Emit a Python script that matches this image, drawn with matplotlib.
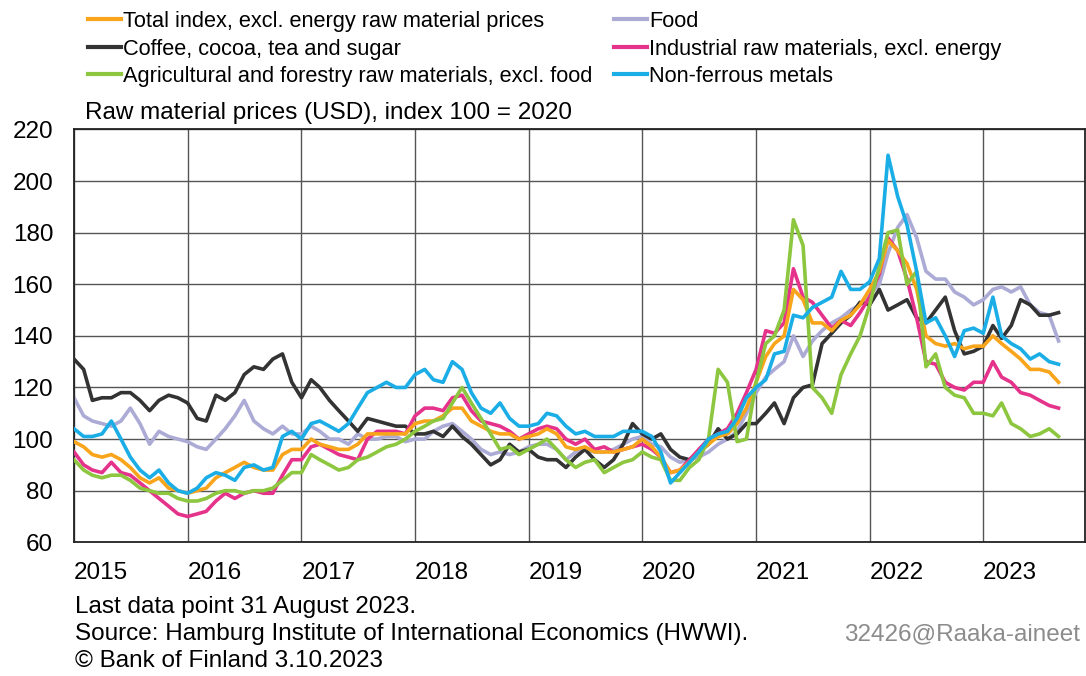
import pandas as pd
import matplotlib
matplotlib.use('Agg')
import matplotlib.pyplot as plt
import matplotlib.dates as mdates
from matplotlib.lines import Line2D

plt.rcParams['font.family'] = ['Liberation Sans', 'DejaVu Sans']

# Monthly readings (start of month), Jan 2015 - Aug 2023, last value = 31 Aug 2023
dates = list(pd.date_range('2015-01-01', '2023-08-01', freq='MS')) + [pd.Timestamp('2023-08-31')]

total = [99, 97, 94, 93, 94, 92, 89, 85, 83, 85, 81, 80,
         79, 80, 81, 85, 87, 89, 91, 89, 88, 88, 94, 96,
         96, 100, 98, 97, 96, 96, 98, 102, 102, 102, 102, 102,
         106, 107, 107, 109, 112, 112, 107, 105, 103, 102, 102, 100,
         101, 102, 104, 102, 97, 96, 97, 95, 95, 95, 96, 97,
         100, 97, 93, 87, 88, 91, 95, 98, 101, 102, 106, 112,
         122, 132, 137, 140, 158, 154, 145, 145, 142, 146, 148, 152,
         158, 165, 177, 173, 168, 158, 140, 137, 136, 137, 135, 136,
         136, 140, 137, 134, 131, 127, 127, 126, 122]

coffee = [131, 127, 115, 116, 116, 118, 118, 115, 111, 115, 117, 116,
          114, 108, 107, 117, 115, 118, 125, 128, 127, 131, 133, 122,
          116, 123, 120, 115, 111, 107, 103, 108, 107, 106, 105, 105,
          102, 102, 103, 101, 105, 101, 98, 94, 90, 92, 98, 95,
          96, 93, 92, 92, 89, 93, 96, 92, 89, 92, 98, 106,
          102, 100, 102, 96, 93, 92, 95, 98, 104, 100, 102, 106,
          106, 110, 114, 106, 116, 120, 121, 137, 141, 145, 148, 153,
          152, 158, 150, 152, 154, 147, 145, 150, 155, 142, 133, 134,
          136, 144, 139, 144, 154, 152, 148, 148, 149]

agri = [92, 88, 86, 85, 86, 86, 84, 81, 80, 79, 79, 77,
        76, 76, 77, 79, 80, 80, 79, 80, 80, 81, 84, 87,
        87, 94, 92, 90, 88, 89, 92, 93, 95, 97, 98, 100,
        103, 105, 107, 108, 114, 120, 114, 108, 102, 96, 97, 94,
        96, 98, 100, 96, 92, 89, 91, 92, 87, 89, 91, 92,
        95, 93, 92, 84, 84, 89, 92, 100, 127, 122, 99, 100,
        122, 137, 140, 150, 185, 175, 120, 116, 110, 125, 133, 140,
        152, 167, 180, 181, 160, 165, 128, 133, 120, 117, 116, 110,
        110, 109, 114, 106, 104, 101, 102, 104, 101]

food = [116, 109, 107, 106, 105, 107, 112, 106, 98, 103, 101, 100,
        99, 97, 96, 100, 104, 109, 115, 107, 104, 102, 105, 102,
        102, 105, 103, 100, 100, 98, 102, 100, 100, 101, 101, 99,
        100, 100, 103, 105, 106, 103, 100, 96, 94, 95, 94, 95,
        97, 98, 98, 96, 92, 95, 96, 95, 95, 96, 98, 100,
        101, 98, 97, 93, 91, 92, 93, 95, 98, 100, 103, 110,
        118, 124, 127, 130, 140, 132, 138, 142, 145, 147, 150, 152,
        156, 160, 172, 182, 187, 178, 165, 162, 162, 157, 155, 152,
        154, 158, 159, 157, 159, 152, 149, 148, 138]

industrial = [95, 90, 88, 87, 91, 87, 86, 83, 80, 77, 74, 71,
              70, 71, 72, 76, 79, 77, 79, 80, 79, 79, 86, 92,
              92, 97, 98, 96, 94, 93, 92, 100, 103, 103, 103, 102,
              109, 112, 112, 111, 116, 117, 111, 107, 106, 105, 103, 100,
              102, 104, 105, 104, 100, 98, 100, 96, 97, 95, 96, 97,
              98, 96, 93, 87, 88, 92, 96, 100, 102, 104, 110, 118,
              127, 142, 141, 145, 166, 155, 153, 148, 143, 146, 144, 149,
              155, 164, 178, 173, 162, 147, 130, 129, 122, 120, 119, 122,
              122, 130, 124, 122, 118, 117, 115, 113, 112]

metals = [104, 101, 101, 102, 107, 100, 93, 88, 85, 88, 83, 80,
          79, 81, 85, 87, 86, 84, 89, 90, 88, 89, 101, 103,
          100, 106, 107, 105, 103, 106, 112, 118, 120, 122, 120, 120,
          125, 127, 123, 122, 130, 127, 118, 112, 110, 114, 108, 105,
          105, 106, 110, 109, 105, 102, 103, 101, 101, 101, 103, 103,
          103, 101, 95, 83, 87, 91, 95, 100, 102, 103, 108, 116,
          120, 123, 133, 134, 148, 147, 151, 153, 155, 165, 158, 158,
          161, 170, 210, 194, 183, 165, 145, 147, 140, 132, 142, 143,
          141, 155, 140, 137, 135, 131, 133, 130, 129]

labels = ['Total index, excl. energy raw material prices',
          'Coffee, cocoa, tea and sugar',
          'Agricultural and forestry raw materials, excl. food',
          'Food',
          'Industrial raw materials, excl. energy',
          'Non-ferrous metals']
colors = ['#F9A51B', '#333333', '#8DC63F', '#ABABD6', '#E5338B', '#1AADE6']
values = [total, coffee, agri, food, industrial, metals]

# drawing order (back to front)
zorder = [3, 1, 4, 0, 2, 5]

fig = plt.figure(figsize=(10.86, 6.76), dpi=100)
ax = fig.add_axes([74 / 1086, 133.7 / 676, 1011 / 1086, 412.9 / 676])

for vals, col, lab, z in zip(values, colors, labels, zorder):
    ax.plot(dates, vals, color=col, lw=2.6, label=lab, zorder=2 + z)

ax.set_ylim(60, 220)
ax.set_yticks(range(60, 221, 20))
ax.set_xlim(pd.Timestamp('2015-01-01'), pd.Timestamp('2023-11-24'))
ax.xaxis.set_major_locator(mdates.YearLocator())
ax.xaxis.set_major_formatter(mdates.DateFormatter('%Y'))
for t in ax.get_xticklabels():
    t.set_horizontalalignment('left')
ax.tick_params(axis='both', length=0, labelsize=17.5)
ax.tick_params(axis='y', pad=15)
ax.tick_params(axis='x', pad=14)
ax.grid(True, color='#555555', lw=1)
ax.set_axisbelow(True)
for s in ax.spines.values():
    s.set_color('#222222')
    s.set_linewidth(1.3)

handles = [Line2D([0], [0], color=c, lw=3) for c in colors]
fig.legend(handles, labels, loc='upper left', bbox_to_anchor=(88 / 1086, 1 - 11 / 676),
           ncol=2, frameon=False, fontsize=15.7, borderpad=0, borderaxespad=0,
           handlelength=1.5, handletextpad=0.1, columnspacing=1.0, labelspacing=0.3)

fig.text(85 / 1086, 1 - 113 / 676, 'Raw material prices (USD), index 100 = 2020',
         fontsize=17.5, va='center')
fig.text(75 / 1086, 1 - 607 / 676, 'Last data point 31 August 2023.', fontsize=17.5, va='center')
fig.text(75 / 1086, 1 - 634 / 676, 'Source: Hamburg Institute of International Economics (HWWI).',
         fontsize=17.5, va='center')
fig.text(75 / 1086, 1 - 661 / 676, '\u00a9 Bank of Finland 3.10.2023', fontsize=17.5, va='center')
fig.text(1080 / 1086, 1 - 634 / 676, '32426@Raaka-aineet', fontsize=17.5, va='center',
         ha='right', color='#8C8C8C')

fig.savefig('out.png', dpi=100)
